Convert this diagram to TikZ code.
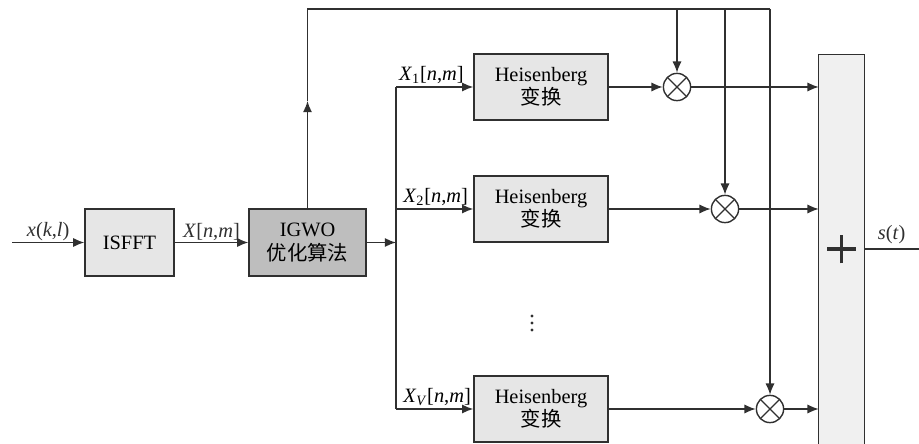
\documentclass[tikz,border=0pt]{standalone}
\usepackage{fontspec}
\setmainfont{Liberation Serif}
\newfontfamily\cjk{Noto Sans CJK SC}
\usepackage{tikz}
\usetikzlibrary{arrows.meta, positioning, calc}
\definecolor{linegray}{HTML}{303030}
\definecolor{boxlight}{HTML}{E6E6E6}
\definecolor{boxdark}{HTML}{BEBEBE}
\definecolor{sumfill}{HTML}{F0F0F0}
\tikzset{
	blk/.style={draw=linegray, line width=1pt, fill=boxlight, align=center, inner sep=0pt},
	mult/.style={circle, draw=linegray, line width=1pt, fill=white, minimum size=0.68cm, inner sep=0pt,
		path picture={\draw[linegray, line width=0.9pt] (path picture bounding box.north west) -- (path picture bounding box.south east)
			(path picture bounding box.north east) -- (path picture bounding box.south west);}},
	conn/.style={linegray, line width=1pt},
	arr/.style={conn, -{Latex[length=8pt,width=6.5pt]}},
	lbl/.style={inner sep=1pt}
}
\begin{document}
\begin{tikzpicture}[x=0.025cm, y=-0.025cm, font=\fontsize{14.5}{16.5}\selectfont]
		\useasboundingbox (0,0) rectangle (919,444);
		% Blocks
		\node[blk, minimum width=2.22cm, minimum height=1.67cm] (isfft) at (129.5,242.5) {ISFFT};
		\node[blk, fill=boxdark, minimum width=2.92cm, minimum height=1.67cm] (igwo) at (307.5,242.5) {IGWO\\{\cjk 优化算法}};
		\node[blk, minimum width=3.35cm, minimum height=1.65cm] (h1) at (541,87) {Heisenberg\\{\cjk 变换}};
		\node[blk, minimum width=3.35cm, minimum height=1.65cm] (h2) at (541,209) {Heisenberg\\{\cjk 变换}};
		\node[blk, minimum width=3.35cm, minimum height=1.65cm] (hv) at (541,409) {Heisenberg\\{\cjk 变换}};
		% Vertical dots between the branches
		\foreach \dy in {316,323,330}
			\fill[linegray] (532,\dy) circle (1.1pt);
		% Multipliers
		\node[mult] (m1) at (677,87) {};
		\node[mult] (m2) at (725,209) {};
		\node[mult] (m3) at (770,409) {};
		% Summation block (open at the bottom)
		\node[fill=sumfill, minimum width=1.125cm, minimum height=9.8cm, inner sep=0pt] (sum) at (841.5,251) {};
		\draw[conn] (sum.south west) -- (sum.north west) -- (sum.north east) -- (sum.south east);
		\draw[linegray, line width=2.4pt] ([xshift=-0.36cm,yshift=0.05cm]sum.center) -- ([xshift=0.36cm,yshift=0.05cm]sum.center)
			([yshift=-0.31cm]sum.center) -- ([yshift=0.41cm]sum.center);
		% Free ends and corners
		\coordinate (in) at (12,242.5);
		\coordinate (out) at (919,249);
		\coordinate (split) at (396,242.5);
		\coordinate (b1) at (396,87);
		\coordinate (b2) at (396,209);
		\coordinate (bv) at (396,409);
		\coordinate (up) at (307.5,101);
		\coordinate (top) at (307.5,9);
		\coordinate (topend) at (770,9);
		% Main chain
		\draw[arr] (in) -- node[above, lbl] {\textit{x}(\textit{k},\textit{l})} (isfft.west);
		\draw[arr] (isfft.east) -- node[above, lbl] {\textit{X}[\textit{n},\textit{m}]} (igwo.west);
		\draw[arr] (igwo.east) -- (split);
		\draw[conn] (b1) -- (bv);
		% Branches
		\draw[arr] (b1) -- (h1.west);
		\draw[arr] (b2) -- (h2.west);
		\draw[arr] (bv) -- (hv.west);
		\node[lbl, anchor=south west] (l1) at ([xshift=1pt,yshift=1pt]b1) {\textit{X}\textsubscript{1}[\textit{n},\textit{m}]};
		\node[lbl, anchor=south west] (l2) at ([xshift=4pt,yshift=1pt]b2) {\textit{X}\textsubscript{2}[\textit{n},\textit{m}]};
		\node[lbl, anchor=south west] (lv) at ([xshift=4pt,yshift=1pt]bv) {\textit{X}\textsubscript{\textit{V}}[\textit{n},\textit{m}]};
		\draw[arr] (h1.east) -- (m1.west);
		\draw[arr] (h2.east) -- (m2.west);
		\draw[arr] (hv.east) -- (m3.west);
		% Feed from the optimiser
		\draw[arr] (igwo.north) -- (up);
		\draw[conn] (up) -- (top) -- (topend);
		\draw[arr] (m1 |- top) -- (m1.north);
		\draw[arr] (m2 |- top) -- (m2.north);
		\draw[arr] (topend) -- (m3.north);
		% Into the sum
		\draw[arr] (m1.east) -- (sum.west |- m1);
		\draw[arr] (m2.east) -- (sum.west |- m2);
		\draw[arr] (m3.east) -- (sum.west |- m3);
		\draw[conn] (sum.east |- out) -- node[above, lbl, yshift=2pt] {\textit{s}(\textit{t})} (out);
	\end{tikzpicture}
\end{document}
